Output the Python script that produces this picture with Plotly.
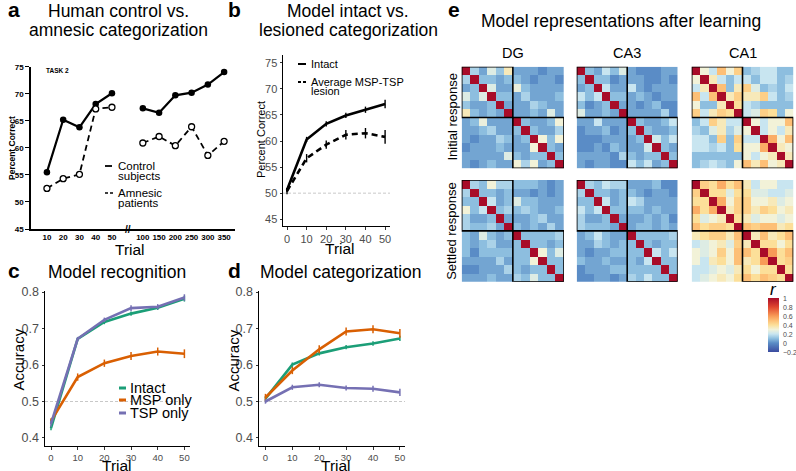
import plotly.graph_objects as go

W, H = 796, 471
FONT = "Liberation Sans"
GREY = "#4D4D4D"

# ---------------- Panel a: human data ----------------
task_trials = [10, 20, 30, 40, 50, 100, 150, 200, 250, 300, 350]
control_early = [55.5, 65.2, 63.8, 68.1, 70.1]
control_late = [67.3, 66.5, 69.7, 70.2, 71.7, 74.0]
amnesic_early = [52.5, 54.3, 55.1, 67.2, 67.5]
amnesic_late = [60.9, 62.1, 60.4, 63.9, 58.6, 61.2]
a_yticks = [45, 50, 55, 60, 65, 70, 75]

# ---------------- Panel b: model intact vs lesioned ----------------
model_trials = [0, 10, 20, 30, 40, 50]
intact_pc = [50.6, 60.3, 63.3, 64.9, 66.0, 67.1]
intact_pc_err = [0.4, 0.5, 0.5, 0.5, 0.6, 0.8]
lesion_pc = [50.4, 56.7, 59.3, 61.2, 61.5, 60.8]
lesion_pc_err = [0.6, 0.8, 0.8, 0.9, 1.0, 1.3]

# ---------------- Panel c: recognition ----------------
rec_intact = [0.427, 0.672, 0.718, 0.741, 0.757, 0.782]
rec_intact_err = [0.006, 0.005, 0.006, 0.006, 0.006, 0.008]
rec_msp = [0.446, 0.567, 0.605, 0.625, 0.637, 0.631]
rec_msp_err = [0.008, 0.010, 0.010, 0.011, 0.011, 0.012]
rec_tsp = [0.439, 0.672, 0.724, 0.756, 0.760, 0.785]
rec_tsp_err = [0.008, 0.005, 0.006, 0.008, 0.007, 0.009]

# ---------------- Panel d: categorization ----------------
cat_intact = [0.508, 0.601, 0.632, 0.649, 0.659, 0.673]
cat_intact_err = [0.006, 0.006, 0.006, 0.006, 0.006, 0.007]
cat_msp = [0.511, 0.585, 0.643, 0.692, 0.698, 0.687]
cat_msp_err = [0.010, 0.010, 0.011, 0.011, 0.011, 0.012]
cat_tsp = [0.500, 0.539, 0.546, 0.537, 0.535, 0.525]
cat_tsp_err = [0.006, 0.007, 0.007, 0.007, 0.008, 0.010]

# ---------------- Panel e: similarity matrices (12 items, two categories) ----------------
dg_init_tl = [[1, .15, .05, .25, .12, .35], [.15, 1, .1, .1, .05, .1], [.05, .1, 1, .25, .05, .05],
              [.25, .1, .25, 1, .1, .1], [.12, .05, .05, .1, 1, .05], [.35, .1, .05, .1, .05, 1]]
dg_init_tr = [[.05, .05, .05, 0, .05, .05], [.1, .05, 0, .05, .05, 0], [.28, .1, .05, .05, .05, .05],
              [.05, .15, .05, .05, .05, .1], [.05, .05, .15, .1, .05, .05], [.05, .05, .1, .05, .25, .05]]
dg_init_br = [[1, .1, .05, .05, .1, .3], [.1, 1, .1, .05, .05, .15], [.05, .1, 1, .3, .1, .3],
              [.05, .05, .3, 1, .1, .05], [.1, .05, .1, .1, 1, .1], [.3, .15, .3, .05, .1, 1]]

ca3_init_tl = [[1, .1, .05, .2, .1, .25], [.1, 1, .1, .1, 0, .05], [.05, .1, 1, .2, .05, .05],
               [.2, .1, .2, 1, .1, .1], [.1, 0, .05, .1, 1, .05], [.25, .05, .05, .1, .05, 1]]
ca3_init_tr = [[.05, 0, 0, 0, .05, .05], [.05, .05, 0, 0, .05, 0], [.2, .05, 0, .05, .05, .05],
               [.05, .1, .05, 0, .05, .05], [.05, 0, .05, .1, 0, 0], [.05, .05, .05, .05, .15, 0]]
ca3_init_br = [[1, .1, .05, .05, .1, .2], [.1, 1, .1, .05, .05, .1], [.05, .1, 1, .22, .1, .2],
               [.05, .05, .22, 1, .1, .05], [.1, .05, .1, .1, 1, .1], [.2, .1, .2, .05, .1, 1]]

ca1_init_tl = [[1, .3, .2, .5, .3, .45], [.3, 1, .35, .2, .1, .2], [.2, .35, 1, .5, .1, .35],
               [.5, .2, .5, 1, .35, .45], [.3, .1, .1, .35, 1, .4], [.45, .2, .35, .45, .4, 1]]
ca1_init_tr = [[.1, .15, .2, .2, .1, .1], [.2, .1, .2, .2, .1, .15], [.45, .25, .1, .15, .1, .2],
               [.35, .35, .45, .2, .1, .15], [.2, .15, .1, .1, .1, .1], [.2, .25, .45, .4, .1, .3]]
ca1_init_br = [[1, .3, .2, .3, .3, .5], [.3, 1, .2, .3, .2, .35], [.2, .2, 1, .55, .3, .5],
               [.3, .3, .55, 1, .35, .3], [.3, .2, .3, .35, 1, .35], [.5, .35, .5, .3, .35, 1]]

dg_settled_tl = [[1, .15, .1, .3, .15, .15], [.15, 1, .1, .1, .05, .1], [.1, .1, 1, .2, .05, .1],
                 [.3, .1, .2, 1, .1, .15], [.15, .05, .05, .1, 1, .05], [.15, .1, .1, .15, .05, 1]]
dg_settled_tr = [[.1, .1, .1, .05, 0, .05], [.05, .05, 0, .05, 0, .05], [.25, .1, .1, .05, .05, .05],
                 [.1, .15, .1, .05, .05, .1], [.05, .05, .1, .15, .05, .05], [.1, .05, .1, .05, .15, .05]]
dg_settled_br = [[1, .1, .1, .1, .1, .15], [.1, 1, .1, .1, .05, .1], [.1, .1, 1, .3, .1, .25],
                 [.1, .1, .3, 1, .1, .1], [.1, .05, .1, .1, 1, .1], [.15, .1, .25, .1, .1, 1]]

ca3_settled_tl = [[1, .15, .1, .2, .15, .15], [.15, 1, .1, .1, .05, .1], [.1, .1, 1, .2, .05, .1],
                  [.2, .1, .2, 1, .1, .1], [.15, .05, .05, .1, 1, .05], [.15, .1, .1, .1, .05, 1]]
ca3_settled_tr = [[.05, .05, .05, .1, 0, 0], [.1, .05, 0, .05, .05, 0], [.2, .15, .05, .05, .05, .05],
                  [.1, .1, .05, .1, .05, .05], [.05, .05, .1, .05, .1, 0], [.05, .1, .1, .05, .1, .05]]
ca3_settled_br = [[1, .1, .1, .1, .1, .15], [.1, 1, .1, .05, .1, .1], [.1, .1, 1, .2, .1, .2],
                  [.1, .05, .2, 1, .1, .1], [.1, .1, .1, .1, 1, .1], [.15, .1, .2, .1, .1, 1]]

ca1_settled_tl = [[1, .45, .4, .55, .4, .5], [.45, 1, .4, .4, .25, .4], [.4, .4, 1, .55, .3, .45],
                  [.55, .4, .55, 1, .35, .45], [.4, .25, .3, .35, 1, .4], [.5, .4, .45, .45, .4, 1]]
ca1_settled_tr = [[.35, .2, .3, .3, .2, .2], [.4, .25, .25, .2, .2, .25], [.45, .3, .3, .35, .25, .3],
                  [.45, .35, .45, .4, .3, .35], [.35, .25, .3, .3, .25, .3], [.5, .45, .5, .5, .35, .4]]
ca1_settled_br = [[1, .35, .5, .35, .4, .5], [.35, 1, .4, .4, .3, .4], [.5, .4, 1, .6, .4, .5],
                  [.35, .4, .6, 1, .4, .45], [.4, .3, .4, .4, 1, .4], [.5, .4, .5, .45, .4, 1]]

region_names = ["DG", "CA3", "CA1"]
response_names = ["Initial response", "Settled response"]
cbar_ticks = [-0.2, 0, 0.2, 0.4, 0.6, 0.8, 1]
cbar_labels = ["\u22120.2", "0", "0.2", "0.4", "0.6", "0.8", "1"]


def full_matrix(tl, tr, br):
    top = [tl[i] + tr[i] for i in range(6)]
    bottom = [[tr[j][i] for j in range(6)] + br[i] for i in range(6)]
    return top + bottom


matrices = [
    [full_matrix(dg_init_tl, dg_init_tr, dg_init_br),
     full_matrix(ca3_init_tl, ca3_init_tr, ca3_init_br),
     full_matrix(ca1_init_tl, ca1_init_tr, ca1_init_br)],
    [full_matrix(dg_settled_tl, dg_settled_tr, dg_settled_br),
     full_matrix(ca3_settled_tl, ca3_settled_tr, ca3_settled_br),
     full_matrix(ca1_settled_tl, ca1_settled_tr, ca1_settled_br)],
]

# ---------------- helpers ----------------
def px(x):
    return x / W


def py(y):
    return 1 - y / H


def dom_x(a, b):
    return [px(a), px(b)]


def dom_y(top, bottom):
    return [py(bottom), py(top)]


fig = go.Figure()
annotations = []
shapes = []


def text(t, x, y, size, xanchor="center", yanchor="middle", bold=False, color="black",
         angle=0, italic=False):
    annotations.append(dict(
        text=t, x=px(x), y=py(y), xref="paper", yref="paper", showarrow=False,
        xanchor=xanchor, yanchor=yanchor, textangle=angle, borderpad=0,
        font=dict(family=FONT, size=size, color=color,
                  weight="bold" if bold else "normal",
                  style="italic" if italic else "normal")))


def seg(x0, x1, y, color="black", width=1.8, dash="solid"):
    shapes.append(dict(type="line", xref="paper", yref="paper", x0=px(x0), x1=px(x1),
                       y0=py(y), y1=py(y), line=dict(color=color, width=width, dash=dash)))


# ---------------- Panel a traces ----------------
a_pos = [i if i < 5 else i + 0.9 for i in range(len(task_trials))]
early_pos, late_pos = a_pos[:5], a_pos[5:]
for xs, ys in [(early_pos, control_early), (late_pos, control_late)]:
    fig.add_trace(go.Scatter(x=xs, y=ys, xaxis="x", yaxis="y", mode="lines+markers",
                             line=dict(color="black", width=2.2),
                             marker=dict(color="black", size=6.5), showlegend=False))
for xs, ys in [(early_pos, amnesic_early), (late_pos, amnesic_late)]:
    fig.add_trace(go.Scatter(x=xs, y=ys, xaxis="x", yaxis="y", mode="lines+markers",
                             line=dict(color="black", width=1.8, dash="6px,4px"),
                             marker=dict(color="white", size=6,
                                         line=dict(color="black", width=1.3)),
                             showlegend=False))

# ---------------- Panel b traces ----------------
fig.add_trace(go.Scatter(x=model_trials, y=intact_pc, xaxis="x2", yaxis="y2", mode="lines",
                         line=dict(color="black", width=2.6),
                         error_y=dict(type="data", array=intact_pc_err, color="black",
                                      thickness=1.4, width=0), showlegend=False))
fig.add_trace(go.Scatter(x=model_trials, y=lesion_pc, xaxis="x2", yaxis="y2", mode="lines",
                         line=dict(color="black", width=2.6, dash="6px,4px"),
                         error_y=dict(type="data", array=lesion_pc_err, color="black",
                                      thickness=1.4, width=0), showlegend=False))

# ---------------- Panels c and d traces ----------------
COLORS = {"intact": "#1B9E77", "msp": "#D95F02", "tsp": "#7570B3"}
for ax, series in [("3", [(rec_intact, rec_intact_err, "intact"), (rec_msp, rec_msp_err, "msp"),
                          (rec_tsp, rec_tsp_err, "tsp")]),
                   ("4", [(cat_intact, cat_intact_err, "intact"), (cat_msp, cat_msp_err, "msp"),
                          (cat_tsp, cat_tsp_err, "tsp")])]:
    for ys, es, key in series:
        fig.add_trace(go.Scatter(x=model_trials, y=ys, xaxis="x" + ax, yaxis="y" + ax,
                                 mode="lines", line=dict(color=COLORS[key], width=2.6),
                                 error_y=dict(type="data", array=es, color=COLORS[key],
                                              thickness=1.5, width=0),
                                 showlegend=False))

# ---------------- Panel e heatmaps ----------------
colorscale = [[0.0, "#3A4B9F"], [0.1667, "#5A8CC6"], [0.25, "#8DBEDF"], [0.3333, "#C8E5F0"],
              [0.4167, "#F2F2D8"], [0.5, "#FCDF99"], [0.5833, "#FDBF76"], [0.6667, "#F89B57"],
              [0.8333, "#E0462F"], [1.0, "#A80C29"]]
hm_x = [(461.7, 564.0), (576.7, 677.7), (691.7, 793.3)]
hm_y = [(66.7, 168.3), (180.0, 281.7)]
layout_axes = {}
k = 5
for r in range(2):
    for c in range(3):
        first = (r == 0 and c == 0)
        fig.add_trace(go.Heatmap(
            z=matrices[r][c], xaxis="x%d" % k, yaxis="y%d" % k, zmin=-0.2, zmax=1,
            colorscale=colorscale, showscale=first,
            colorbar=dict(x=px(768), xanchor="left", y=py(325), yanchor="middle",
                          lenmode="pixels", len=54, thickness=11, outlinewidth=0,
                          tickvals=cbar_ticks, showticklabels=False, ticks="",
                          xpad=0, ypad=0) if first else None))
        layout_axes["xaxis%d" % k] = dict(domain=dom_x(*hm_x[c]), range=[-0.5, 11.5],
                                          visible=False, anchor="y%d" % k)
        layout_axes["yaxis%d" % k] = dict(domain=dom_y(*hm_y[r]), range=[11.5, -0.5],
                                          visible=False, anchor="x%d" % k)
        for lo, hi in [(-0.5, 5.5), (5.5, 11.5)]:
            shapes.append(dict(type="rect", xref="x%d" % k, yref="y%d" % k, x0=lo, x1=hi,
                               y0=lo, y1=hi, line=dict(color="black", width=1.6)))
        k += 1


# ---------------- axes ----------------
def gg_x(domain, rng, anchor, size=11):
    return dict(domain=domain, range=rng, anchor=anchor, showline=True, linecolor="black",
                linewidth=1, ticks="outside", ticklen=2.5, tickcolor="#333333",
                tickvals=model_trials, tickfont=dict(family=FONT, size=size, color=GREY),
                showgrid=False, zeroline=False, automargin=False)


def gg_y(domain, rng, anchor, tickvals, ticktext, size=12):
    return dict(domain=domain, range=rng, anchor=anchor, showline=True, linecolor="black",
                linewidth=1, ticks="outside", ticklen=2.5, tickcolor="#333333",
                tickvals=tickvals, ticktext=ticktext,
                tickfont=dict(family=FONT, size=size, color=GREY),
                showgrid=False, zeroline=False, automargin=False)


acc_ticks = [0.4, 0.5, 0.6, 0.7, 0.8]
acc_labels = ["0.4", "0.5", "0.6", "0.7", "0.8"]
layout_axes["xaxis"] = dict(domain=dom_x(31, 235), range=[-0.98, 11.57], anchor="y",
                            showline=True, linecolor="black", linewidth=1.6, ticks="",
                            tickvals=a_pos, ticktext=[str(t) for t in task_trials],
                            tickfont=dict(family=FONT, size=8, color="black", weight="bold"),
                            showgrid=False, zeroline=False, automargin=False)
layout_axes["yaxis"] = dict(domain=dom_y(66.7, 229), range=[45, 75], anchor="x",
                            showline=True, linecolor="black", linewidth=1.6, ticks="outside",
                            ticklen=4, tickcolor="black", tickvals=a_yticks,
                            tickfont=dict(family=FONT, size=8, color="black", weight="bold"),
                            showgrid=False, zeroline=False, automargin=False)
layout_axes["xaxis2"] = gg_x(dom_x(283, 390), [-2.04, 52.5], "y2", 11)
layout_axes["yaxis2"] = gg_y(dom_y(55, 226), [43.7, 76.5], "x2",
                             [45, 50, 55, 60, 65, 70, 75], None, 11)
layout_axes["xaxis3"] = gg_x(dom_x(45, 190), [-2.25, 52.1], "y3", 9.5)
layout_axes["yaxis3"] = gg_y(dom_y(291, 446), [0.378, 0.803], "x3", acc_ticks, acc_labels, 12.5)
layout_axes["xaxis4"] = gg_x(dom_x(259, 405), [-2.4, 51.9], "y4", 9.5)
layout_axes["yaxis4"] = gg_y(dom_y(291, 446), [0.378, 0.803], "x4", acc_ticks, acc_labels, 12.5)

# chance reference lines
for ax, yv in [("2", 50), ("3", 0.5), ("4", 0.5)]:
    shapes.append(dict(type="line", xref="x%s domain" % ax, yref="y" + ax, x0=0, x1=1,
                       y0=yv, y1=yv, layer="below",
                       line=dict(color="#C8C8C8", width=1, dash="3px,2px")))

# ---------------- text ----------------
TS = 17.5
text("a", 7, 10, 21, xanchor="left", bold=True)
text("Human control vs.", 118, 11, TS)
text("amnesic categorization", 118, 30, TS)
text("b", 227, 10, 21, xanchor="left", bold=True)
text("Model intact vs.", 348, 11, TS)
text("lesioned categorization", 348, 30, TS)
text("c", 7, 270, 21, xanchor="left", bold=True)
text("Model recognition", 117, 271.5, TS)
text("d", 227, 270, 21, xanchor="left", bold=True)
text("Model categorization", 340, 271.5, TS)
text("e", 447, 10, 21, xanchor="left", bold=True)
text("Model representations after learning", 621, 21.5, TS)

# panel a
text("TASK 2", 45, 71, 6.5, xanchor="left", bold=True)
text("Percent Correct", 12, 148, 8.5, bold=True, angle=-90)
text("Trial", 130, 249.5, 15.5)
text("//", 128, 229, 10, bold=True)
seg(105, 112, 166, width=1.8)
text("Control", 117, 166, 11.5, xanchor="left")
text("subjects", 117, 175.5, 11.5, xanchor="left")
seg(105, 113, 193, width=1.6, dash="3px,2px")
text("Amnesic", 117, 193, 11.5, xanchor="left")
text("patients", 117, 202.5, 11.5, xanchor="left")

# panel b
text("Percent Correct", 261, 140, 11, angle=-90)
text("Trial", 340, 248.5, 15.5)
seg(298, 306, 64, width=2)
text("Intact", 310, 64, 11, xanchor="left")
seg(298, 306, 82, width=2, dash="3px,2px")
text("Average MSP-TSP", 310, 82, 11, xanchor="left")
text("lesion", 310, 91, 11, xanchor="left")

# panel c
text("Accuracy", 17.5, 360, 15, angle=-90)
text("Trial", 117, 465, 15.5)
for yy, key, lab in [(388, "intact", "Intact"), (400, "msp", "MSP only"), (413, "tsp", "TSP only")]:
    seg(119, 126, yy, color=COLORS[key], width=3)
    text(lab, 129, yy, 14.5, xanchor="left")

# panel d
text("Accuracy", 232.5, 360, 15, angle=-90)
text("Trial", 336, 465, 15.5)

# panel e labels
for name, (x0, x1) in zip(region_names, hm_x):
    text(name, (x0 + x1) / 2, 53, 14.5)
for name, (y0, y1) in zip(response_names, hm_y):
    text(name, 452, (y0 + y1) / 2, 13, angle=-90)
text("r", 773, 289, 17, italic=True)
# colour-bar tick labels (beside the bar)
cb_top, cb_bottom = 298, 352
for v, lab in zip(cbar_ticks, cbar_labels):
    yy = cb_bottom - (v + 0.2) / 1.2 * (cb_bottom - cb_top)
    text(lab, 782, yy, 7, xanchor="left", color=GREY)

fig.update_layout(template="none", width=W, height=H, autosize=False,
                  margin=dict(l=0, r=0, t=0, b=0, pad=0, autoexpand=False),
                  plot_bgcolor="white", paper_bgcolor="white", showlegend=False,
                  annotations=annotations, shapes=shapes, **layout_axes)

fig.write_html("out.html", config={"displayModeBar": False},
               post_script="document.body.style.margin='0px';")
